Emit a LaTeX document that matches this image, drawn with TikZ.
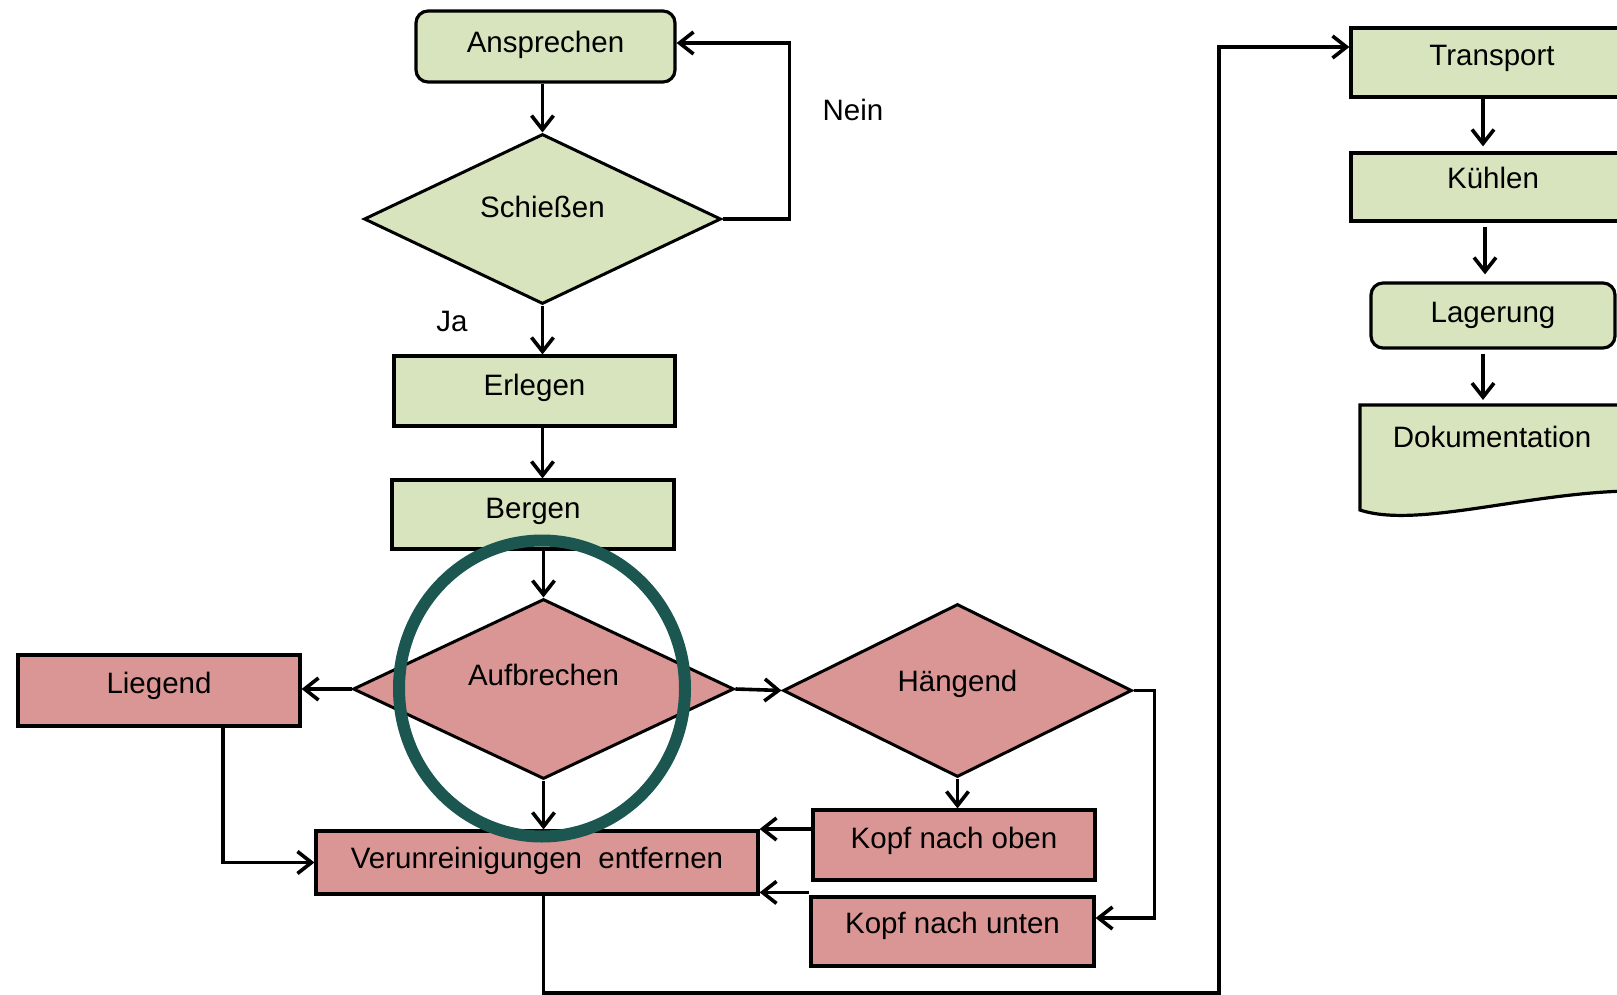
\documentclass[tikz,border=0pt]{standalone}
\usepackage{fontspec}
\setmainfont{Liberation Sans}
\usetikzlibrary{shapes.geometric,arrows.meta,calc}
\definecolor{fgreen}{HTML}{D7E4BD}
\definecolor{fred}{HTML}{D99694}
\definecolor{ringcol}{HTML}{1B5650}
\begin{document}
\begin{tikzpicture}[x=1pt,y=-1pt,
  every node/.style={font=\fontsize{29.5}{35}\selectfont, text=black},
  box/.style={draw, line width=3.2pt, inner sep=0pt, text height=21pt},
  gbox/.style={box, fill=fgreen},
  rbox/.style={box, fill=fred},
  dia/.style={draw, line width=3pt, shape=diamond, aspect=2, inner sep=0pt, text height=21pt},
  arr/.style={line width=3.6pt, -{Straight Barb[length=14pt,width=22pt,line width=3.6pt]}},
  lbl/.style={inner sep=0pt}
]
\useasboundingbox (0,0) rectangle (1617,995);
\clip (0,0) rectangle (1617,995);

% left column
\node[gbox, rounded corners=12pt, minimum width=259pt, minimum height=71pt, text depth=9pt] (ansp) at (545.5,46.5) {Ansprechen};
\node[dia, fill=fgreen, minimum width=357pt, minimum height=170pt, text depth=24pt] (schiess) at (542.5,219) {Schießen};
\node[gbox, minimum width=281pt, minimum height=70pt, text depth=12pt] (erlegen) at (534.5,391) {Erlegen};
\node[gbox, minimum width=282pt, minimum height=69pt, text depth=13pt] (bergen) at (533,514.5) {Bergen};
\node[dia, fill=fred, minimum width=381pt, minimum height=180pt, text depth=28pt] (aufbr) at (543.5,689) {Aufbrechen};
\node[rbox, minimum width=282pt, minimum height=71pt, text depth=15pt] (liegend) at (159,690.5) {Liegend};
\node[dia, fill=fred, minimum width=349pt, minimum height=173pt, text depth=20pt] (haengend) at (957.5,690.5) {Hängend};
\node[rbox, minimum width=442pt, minimum height=63pt, text depth=9pt] (verun) at (537,862.5) {Verunreinigungen\ \ entfernen};
\node[rbox, minimum width=282pt, minimum height=70pt, text depth=14pt] (kopfoben) at (954,845) {Kopf nach oben};
\node[rbox, minimum width=283pt, minimum height=69pt, text depth=17pt] (kopfunten) at (952.5,931.5) {Kopf nach unten};

% right column
\node[gbox, minimum width=282pt, minimum height=69pt, text depth=15pt] (transport) at (1492,62.5) {Transport};
\node[gbox, minimum width=284pt, minimum height=68pt, text depth=18pt] (kuehlen) at (1493,187) {Kühlen};
\node[gbox, rounded corners=12pt, minimum width=244pt, minimum height=65pt, text depth=7pt] (lagerung) at (1493,315.5) {Lagerung};
\draw[line width=3.2pt, fill=fgreen] (1360,405) -- (1650,405) -- (1650,491)
  .. controls (1540,488) and (1420,530) .. (1360,510) -- cycle;
\node[lbl] (doku) at (1492,437) {Dokumentation};
\coordinate (dokutop) at (1483,405);

% labels
\node[lbl] (nein) at (853,110) {Nein};
\node[lbl] (ja) at (452,321) {Ja};

% connectors
\draw[arr] (schiess.north |- ansp.south) -- (schiess.north);
\draw[arr] (schiess.east) -- ++(67,0) |- ([yshift=3.5pt]ansp.east);
\draw[arr] (schiess.south) -- (schiess.south |- erlegen.north);
\draw[arr] (schiess.south |- erlegen.south) -- (schiess.south |- bergen.north);
\draw[arr] (aufbr.north |- bergen.south) -- (aufbr.north);
\draw[arr] (aufbr.west) -- (aufbr.west -| liegend.east);
\draw[arr] ([xshift=64pt]liegend.south) |- (verun.west);
\draw[arr] (aufbr.south) -- (aufbr.south |- verun.north);
\draw[arr] (aufbr.east) -- (haengend.west);
\draw[arr] (haengend.south) -- (haengend.south |- kopfoben.north);
\draw[arr] (haengend.east) -- ++(21,0) |- ([yshift=13.5pt]kopfunten.east);
\draw[arr] ([yshift=16pt]kopfoben.west) -- ([yshift=16pt]kopfoben.west -| verun.east);
\draw[arr] ([yshift=3pt]kopfunten.north west) -- ([yshift=3pt]kopfunten.north west -| verun.east);
\coordinate (lowright) at (1219,993);
\draw[arr] (aufbr.south |- verun.south) |- (lowright) |- ([yshift=15.5pt]transport.west);
\draw[arr, shorten >=5pt] ([xshift=-9pt]transport.south) -- ([xshift=-9pt]transport.south |- kuehlen.north);
\draw[arr, shorten <=4pt, shorten >=7pt] ([xshift=-8pt]kuehlen.south) -- ([xshift=-8pt]kuehlen.south |- lagerung.north);
\draw[arr, shorten <=4pt, shorten >=5pt] (dokutop |- lagerung.south) -- (dokutop);

% highlight ring
\node[draw=ringcol, line width=12pt, ellipse, inner sep=0pt, minimum width=286pt, minimum height=296pt] (ring) at (542,688.5) {};
\end{tikzpicture}
\end{document}
